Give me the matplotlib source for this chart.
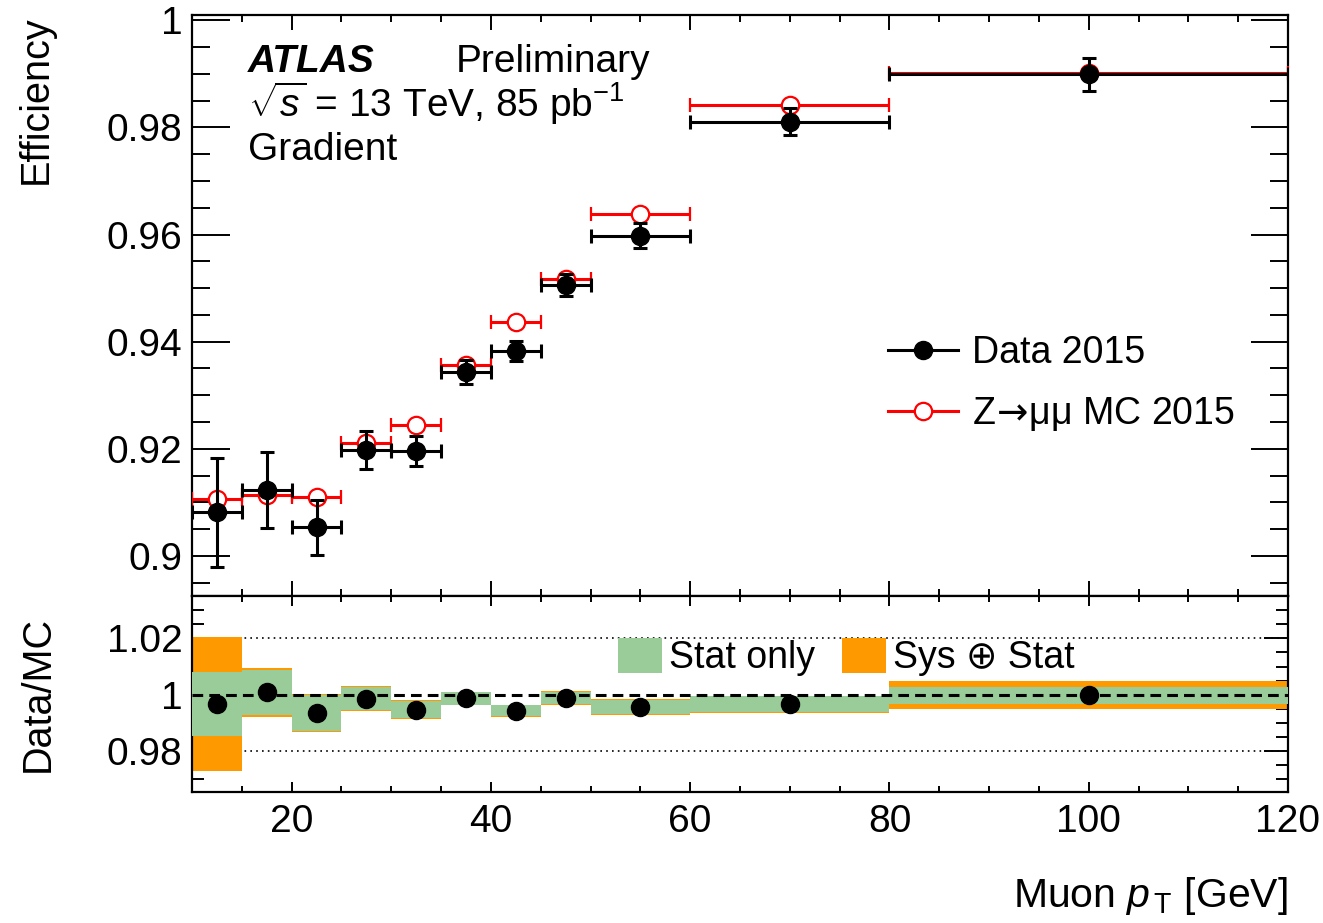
import matplotlib
matplotlib.use('Agg')
import matplotlib.pyplot as plt
import numpy as np
from matplotlib.ticker import MultipleLocator, FuncFormatter
from matplotlib.patches import Patch
from matplotlib.lines import Line2D
from matplotlib.font_manager import FontProperties

plt.rcParams['font.family'] = ['Liberation Sans', 'DejaVu Sans']
plt.rcParams['mathtext.fontset'] = 'custom'
plt.rcParams['mathtext.rm'] = 'Liberation Sans'
plt.rcParams['mathtext.it'] = 'Liberation Sans:italic'
plt.rcParams['mathtext.bf'] = 'Liberation Sans:bold'

# ---- data ----
bin_edges = [10, 15, 20, 25, 30, 35, 40, 45, 50, 60, 80, 120]
data_eff = [0.9081, 0.9123, 0.9053, 0.9198, 0.9196, 0.9343, 0.9383, 0.9506, 0.9598, 0.9811, 0.9899]
data_err = [0.0101, 0.0071, 0.0052, 0.0035, 0.0028, 0.0022, 0.0019, 0.0021, 0.0024, 0.0025, 0.0030]
mc_eff = [0.9107, 0.9113, 0.9109, 0.9211, 0.9245, 0.9357, 0.9436, 0.9517, 0.9639, 0.9842, 0.9902]
ratio = [0.9967, 1.0008, 0.9936, 0.9986, 0.9947, 0.9987, 0.9943, 0.9989, 0.9956, 0.9966, 0.9998]
stat_err = [0.0112, 0.0081, 0.0063, 0.0040, 0.0029, 0.0022, 0.0020, 0.0022, 0.0026, 0.0028, 0.0030]
tot_err = [0.0236, 0.0088, 0.0068, 0.0044, 0.0034, 0.0023, 0.0022, 0.0025, 0.0028, 0.0031, 0.0050]

edges = np.array(bin_edges, dtype=float)
xc = 0.5 * (edges[1:] + edges[:-1])
xw = 0.5 * (edges[1:] - edges[:-1])
r = np.array(ratio)

W, H = 1323, 923
fig = plt.figure(figsize=(W / 100, H / 100), dpi=100)

def fx(x):
    return x / W

def fy(y):
    return 1 - y / H

FS = 27      # legend text
TFS = 28     # tick labels
LFS = 28.5   # axis titles
AFS = 28     # ATLAS label block
GREEN = '#99cc99'
ORANGE = '#ff9900'

ax1 = fig.add_axes([fx(192), fy(596), fx(1288) - fx(192), fy(15) - fy(596)])
ax2 = fig.add_axes([fx(192), fy(792), fx(1288) - fx(192), fy(596) - fy(792)], sharex=ax1)

for ax in (ax1, ax2):
    for s in ax.spines.values():
        s.set_linewidth(1.6)
    ax.tick_params(which='both', direction='in', top=True, right=True, width=1.4,
                   labelsize=TFS)
    ax.xaxis.set_major_locator(MultipleLocator(20))
    ax.xaxis.set_minor_locator(MultipleLocator(5))
    ax.yaxis.set_major_locator(MultipleLocator(0.02))
    ax.yaxis.set_minor_locator(MultipleLocator(0.005))
    ax.yaxis.set_major_formatter(FuncFormatter(lambda v, p: '%g' % round(v, 4)))

ax1.set_xlim(10, 120)
ax1.set_ylim(0.8925, 1.001)
ax1.tick_params(axis='y', which='major', length=27, pad=7)
ax1.tick_params(axis='y', which='minor', length=13)
ax1.tick_params(axis='x', which='major', length=11, labelbottom=False)
ax1.tick_params(axis='x', which='minor', length=5)

ax2.set_ylim(0.9655, 1.035)
ax2.tick_params(axis='y', which='major', length=17, pad=7)
ax2.tick_params(axis='y', which='minor', length=8.5)
ax2.tick_params(axis='x', which='major', length=7, pad=9)
ax2.tick_params(axis='x', which='minor', length=4)

# ---- top panel ----
ax1.errorbar(xc, mc_eff, xerr=xw, fmt='o', color='red', mfc='white', mec='red',
             mew=1.6, ms=12.5, elinewidth=2.2, capsize=5, capthick=2.2, zorder=3)
ax1.errorbar(xc, data_eff, xerr=xw, yerr=data_err, fmt='o', color='black', ms=13,
             elinewidth=2.2, capsize=5, capthick=2.2, zorder=4)

h_data = Line2D([], [], color='black', marker='o', ms=13, lw=2.2)
h_mc = Line2D([], [], color='red', marker='o', ms=12.5, mfc='white', mec='red', mew=1.6, lw=2.2)
leg_prop = FontProperties(family=['Liberation Sans', 'DejaVu Sans'], size=FS,
                          math_fontfamily='dejavusans')
ax1.legend([h_data, h_mc], ['Data 2015', 'Z$\\!\\rightarrow\\!$\u03bc\u03bc MC 2015'], loc='center left',
           bbox_to_anchor=(fx(888), fy(384)), bbox_transform=fig.transFigure,
           frameon=False, prop=leg_prop, borderpad=0, borderaxespad=0,
           handlelength=1.87, handletextpad=0.37, labelspacing=0.66, numpoints=1)

fig.text(fx(248), fy(72), 'ATLAS', fontsize=AFS, fontweight='bold', fontstyle='italic',
         ha='left', va='baseline')
fig.text(fx(456), fy(72), 'Preliminary', fontsize=AFS, ha='left', va='baseline')
fig.text(fx(248), fy(117), r'$\sqrt{s}$ = 13 TeV, 85 pb$^{-1}$', fontsize=AFS,
         ha='left', va='baseline')
fig.text(fx(248), fy(160), 'Gradient', fontsize=AFS, ha='left', va='baseline')

# ---- ratio panel ----
ax2.axhline(1.02, color='black', lw=1.2, dashes=(1, 2.5), zorder=1)
ax2.axhline(0.98, color='black', lw=1.2, dashes=(1, 2.5), zorder=1)
ax2.stairs(r + np.array(tot_err), edges, baseline=r - np.array(tot_err), fill=True,
           color=ORANGE, lw=0, zorder=2)
ax2.stairs(r + np.array(stat_err), edges, baseline=r - np.array(stat_err), fill=True,
           color=GREEN, lw=0, zorder=3)
ax2.axhline(1.0, color='black', lw=2.2, dashes=(3.5, 2), zorder=4)
ax2.plot(xc, ratio, 'o', color='black', ms=13, zorder=5)

ax2.legend([Patch(facecolor=GREEN, edgecolor='none'), Patch(facecolor=ORANGE, edgecolor='none')],
           ['Stat only', 'Sys \u2295 Stat'], ncol=2, loc='center left',
           bbox_to_anchor=(fx(618), fy(657)), bbox_transform=fig.transFigure,
           frameon=False, fontsize=FS, borderpad=0, borderaxespad=0,
           handlelength=1.17, handleheight=1.07, handletextpad=0.2, columnspacing=0.7)

# ---- axis titles ----
fig.text(fx(36), fy(15), 'Efficiency', rotation=90, fontsize=LFS, ha='center', va='top')
fig.text(fx(38), fy(694), 'Data/MC', rotation=90, fontsize=LFS, ha='center', va='center')
fig.text(fx(1288), fy(907), r'Muon $p_{\,\mathrm{T}}$ [GeV]', fontsize=29.5, ha='right', va='baseline')

fig.savefig('out.png', dpi=100)
